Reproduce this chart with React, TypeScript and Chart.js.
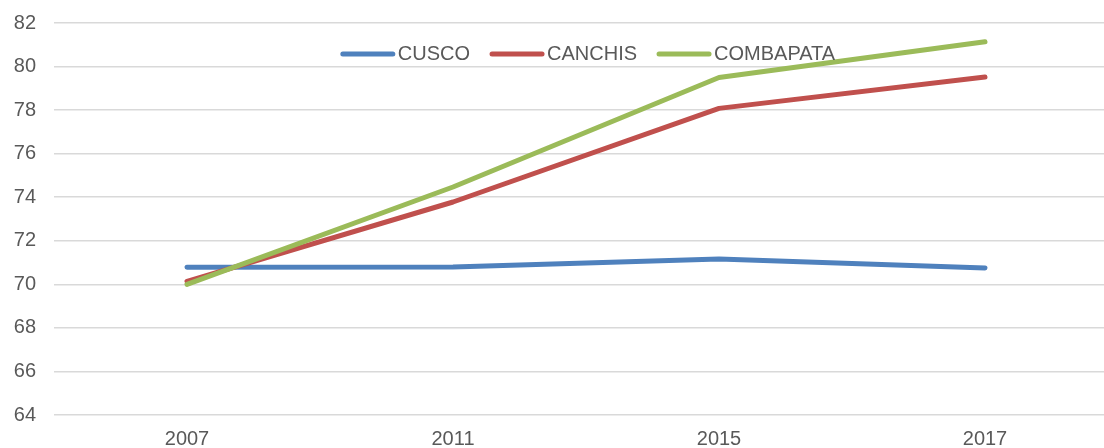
import React, { useEffect, useRef } from "react";
import { Chart, registerables } from "chart.js";

Chart.register(...registerables);

const years = ["2007", "2011", "2015", "2017"];
const cusco = [70.78, 70.8, 71.16, 70.75];
const canchis = [70.14, 73.78, 78.08, 79.52];
const combapata = [70.0, 74.47, 79.5, 81.14];
const seriesNames = ["CUSCO", "CANCHIS", "COMBAPATA"];
const seriesColors = ["#4f81bd", "#c0504d", "#9bbb59"];

const FONT = "Liberation Sans, Arial, sans-serif";

const overlayLegend = {
  id: "overlayLegend",
  afterDatasetsDraw(chart: any) {
    const ctx = chart.ctx;
    const area = chart.chartArea;
    ctx.save();
    ctx.font = `20px ${FONT}`;
    const sample = 54;
    const gapAfterSample = 3;
    const gapBetween = 20;
    const widths = seriesNames.map((n) => sample + gapAfterSample + ctx.measureText(n).width);
    const total = widths.reduce((a, b) => a + b, 0) + gapBetween * (widths.length - 1);
    let x = (area.left + area.right) / 2 - total / 2 + 2;
    const y = 54;
    seriesNames.forEach((name, i) => {
      ctx.strokeStyle = seriesColors[i];
      ctx.lineWidth = 5;
      ctx.lineCap = "round";
      ctx.beginPath();
      ctx.moveTo(x + 2, y);
      ctx.lineTo(x + sample - 2, y);
      ctx.stroke();
      ctx.fillStyle = "#595959";
      ctx.textBaseline = "middle";
      ctx.textAlign = "left";
      ctx.fillText(name, x + sample + gapAfterSample, y);
      x += widths[i] + gapBetween;
    });
    ctx.restore();
  },
};

export default function App() {
  const ref = useRef<HTMLCanvasElement>(null);
  useEffect(() => {
    if (!ref.current) return;
    const data = [cusco, canchis, combapata];
    const chart = new Chart(ref.current, {
      type: "line",
      data: {
        labels: years,
        datasets: seriesNames.map((name, i) => ({
          label: name,
          data: data[i],
          borderColor: seriesColors[i],
          backgroundColor: seriesColors[i],
          borderWidth: 5,
          borderCapStyle: "round" as const,
          borderJoinStyle: "round" as const,
          pointRadius: 0,
          pointHoverRadius: 0,
          tension: 0,
          order: 3 - i,
        })),
      },
      options: {
        animation: false,
        responsive: false,
        maintainAspectRatio: false,
        layout: { padding: { top: 23, right: 0, left: 0, bottom: 0 } },
        plugins: { legend: { display: false }, tooltip: { enabled: false } },
        scales: {
          x: {
            offset: true,
            grid: { display: false, drawTicks: false },
            border: { display: false },
            ticks: { color: "#595959", font: { family: FONT, size: 20 }, padding: 12, maxRotation: 0 },
            afterFit(scale: any) {
              scale.height = 33;
            },
          },
          y: {
            min: 64,
            max: 82,
            ticks: { stepSize: 2, color: "#595959", font: { family: FONT, size: 20 }, padding: 18 },
            grid: { color: "#d9d9d9", lineWidth: 1.5, drawTicks: false },
            border: { display: false },
            afterFit(scale: any) {
              scale.width = 54;
              scale.paddingTop = 0;
            },
          },
        },
      },
      plugins: [overlayLegend],
    });
    return () => chart.destroy();
  }, []);
  return (
    <div style={{ position: "fixed", left: 0, top: 0, width: 1104, height: 448, overflow: "hidden", background: "#fff" }}>
      <canvas ref={ref} width={1118} height={448} style={{ display: "block" }} />
    </div>
  );
}
